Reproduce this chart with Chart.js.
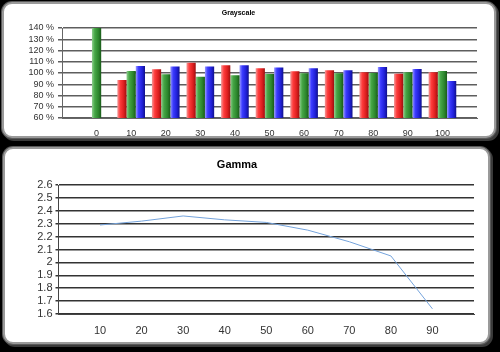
<!DOCTYPE html>
<html>
<head>
<meta charset="utf-8">
<script src="https://cdn.jsdelivr.net/npm/chart.js@4"></script>
<style>
  html, body { margin: 0; padding: 0; background: #000; }
  body { width: 500px; height: 352px; position: relative; overflow: hidden; }
  .panel {
    position: absolute; background: #fff; box-sizing: border-box;
    border: 2px solid #9a9a9a; border-radius: 10px;
    box-shadow: 0 0 0 1px #5a5a5a, 2px 2px 0 1px #3a3a3a;
  }
  #p1 { left: 2px; top: 2px; width: 494px; height: 136px; }
  #p2 { left: 3px; top: 147px; width: 487px; height: 197px; }
  canvas { position: absolute; left: 0; }
  #wrap1 { position: absolute; left: 0; top: 0; width: 500px; height: 142px; }
  #wrap2 { position: absolute; left: 0; top: 142px; width: 500px; height: 210px; }
</style>
</head>
<body>
<div class="panel" id="p1"></div>
<div class="panel" id="p2"></div>
<div id="wrap1"><canvas id="grayChart"></canvas></div>
<div id="wrap2"><canvas id="gammaChart"></canvas></div>
<script>
// Grayscale (RGB balance, %)
const grayLevels = ['0', '10', '20', '30', '40', '50', '60', '70', '80', '90', '100'];
const redValues   = [null, 93.7, 103.3, 109.2, 106.9, 104.2, 101.5, 102.4, 100.6, 99.4, 100.6];
const greenValues = [140, 101.8, 98.8, 96.7, 97.9, 99.1, 99.7, 99.7, 100.0, 100.6, 101.8];
const blueValues  = [null, 106.3, 105.7, 105.7, 106.9, 104.8, 104.2, 102.4, 105.4, 103.6, 92.9];

// Gamma
const gammaX = [10, 20, 30, 40, 50, 60, 70, 80, 90];
const gammaY = [2.29, 2.32, 2.36, 2.33, 2.31, 2.25, 2.16, 2.05, 1.64];

Chart.defaults.font.family = "'Liberation Sans', Arial, sans-serif";
Chart.defaults.color = '#333';
Chart.defaults.animation = false;

// empty slot before 0 and after 100
const pad = arr => [null, ...arr, null];
const grayLabels = ['', ...grayLevels, ''];

const barStops = {
  red:   ['#f49a9a', '#ff3c3c', '#dc1e1e', '#9c1010'],
  green: ['#8fcf8f', '#46a646', '#2c862c', '#1a5a1a'],
  blue:  ['#9a9aff', '#3c3cff', '#2020d8', '#10108c']
};

function barFill(key, dsIndex) {
  return function(ctx) {
    const chart = ctx.chart;
    const xs = chart.scales && chart.scales.x;
    const stops = barStops[key];
    if (!xs || !chart.chartArea) return stops[1];
    const step = xs.getPixelForValue(1) - xs.getPixelForValue(0);
    const w = step * 0.8 / 3;
    const cx = xs.getPixelForValue(ctx.dataIndex) + (dsIndex - 1) * w;
    const g = chart.ctx.createLinearGradient(cx - w / 2, 0, cx + w / 2, 0);
    g.addColorStop(0, stops[0]);
    g.addColorStop(0.3, stops[1]);
    g.addColorStop(0.7, stops[2]);
    g.addColorStop(1, stops[3]);
    return g;
  };
}

new Chart(document.getElementById('grayChart'), {
  type: 'bar',
  data: {
    labels: grayLabels,
    datasets: [
      { label: 'R', data: pad(redValues), backgroundColor: barFill('red', 0) },
      { label: 'G', data: pad(greenValues), backgroundColor: barFill('green', 1) },
      { label: 'B', data: pad(blueValues), backgroundColor: barFill('blue', 2) }
    ]
  },
  options: {
    responsive: true,
    maintainAspectRatio: false,
    layout: { padding: { left: 0, right: 23, top: 0, bottom: 4 } },
    datasets: { bar: { categoryPercentage: 0.8, barPercentage: 1.0 } },
    plugins: {
      legend: { display: false },
      tooltip: { enabled: false },
      title: {
        display: true, text: 'Grayscale', color: '#000',
        font: { size: 7, weight: 'bold' },
        padding: { top: 8.8, bottom: 10.8 }
      }
    },
    scales: {
      x: {
        offset: false,
        grid: { display: false },
        border: { display: true, color: '#666' },
        ticks: { font: { size: 9 }, padding: 2, autoSkip: false, maxRotation: 0 },
        afterFit: s => { s.height = 20; }
      },
      y: {
        min: 60, max: 140,
        ticks: { stepSize: 10, autoSkip: false, font: { size: 9 }, padding: 4, callback: v => v + ' %' },
        grid: { color: '#5e5e5e', lineWidth: 1.5, tickLength: 4 },
        border: { color: '#666' },
        afterFit: s => { s.width = 62; }
      }
    }
  }
});

new Chart(document.getElementById('gammaChart'), {
  type: 'line',
  data: {
    datasets: [{
      label: 'Gamma',
      data: gammaX.map((x, i) => ({ x: x, y: gammaY[i] })),
      borderColor: '#74a3dc',
      borderWidth: 1,
      pointRadius: 0,
      tension: 0,
      fill: false
    }]
  },
  options: {
    responsive: true,
    maintainAspectRatio: false,
    layout: { padding: { left: 0, right: 26, top: 0, bottom: 18 } },
    plugins: {
      legend: { display: false },
      tooltip: { enabled: false },
      title: {
        display: true, text: 'Gamma', color: '#000',
        font: { size: 11, weight: 'bold' },
        padding: { top: 16.4, bottom: 13.4 }
      }
    },
    scales: {
      x: {
        type: 'linear', min: 0, max: 100,
        grid: { display: false },
        border: { display: true, color: '#444' },
        ticks: {
          stepSize: 10, autoSkip: false, font: { size: 11 }, padding: 2,
          callback: v => (v === 0 || v === 100) ? '' : v
        },
        afterFit: s => { s.height = 20; }
      },
      y: {
        min: 1.6, max: 2.6,
        ticks: { stepSize: 0.1, autoSkip: false, font: { size: 11 }, padding: 3, callback: v => String(+v.toFixed(1)) },
        grid: { color: '#333', lineWidth: 1.5, tickLength: 3 },
        border: { color: '#444' },
        afterFit: s => { s.width = 58.5; }
      }
    }
  }
});
</script>
</body>
</html>
